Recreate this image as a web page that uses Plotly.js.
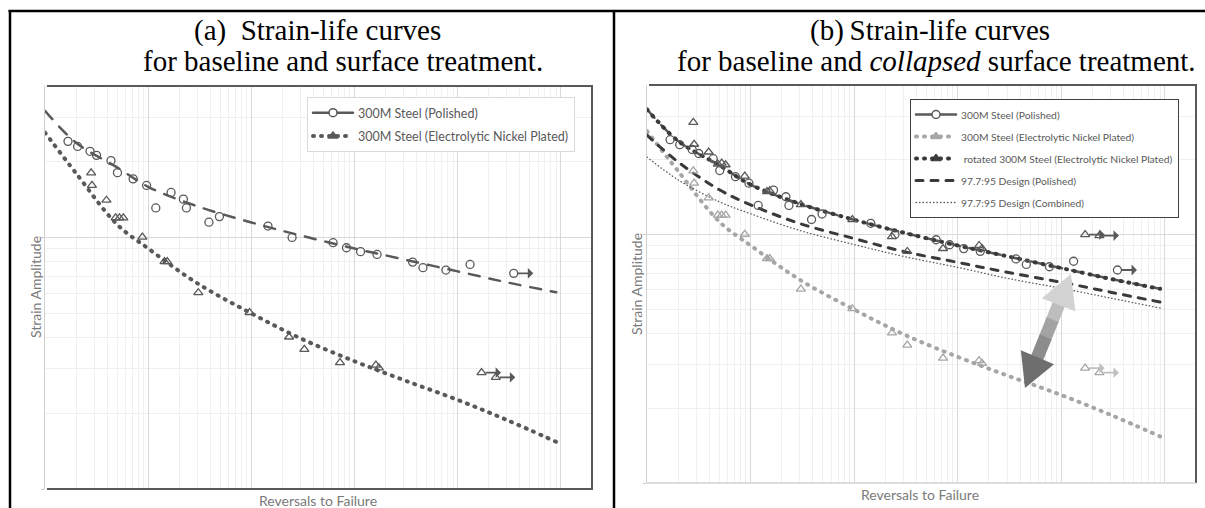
<!DOCTYPE html>
<html>
<head>
<meta charset="utf-8">
<script src="https://cdn.plot.ly/plotly-3.0.1.min.js"></script>
<style>
  html, body { margin: 0; padding: 0; background: #fff; }
  #chart { width: 1205px; height: 508px; }
  .js-line { stroke-linecap: round; }
</style>
</head>
<body>
<div id="chart"></div>
<script>
// ---------------- data ----------------
// 300M Steel (Polished) test points: reversals to failure / strain amplitude
const N_POL = [16.7, 20.7, 27.3, 31.6, 43.6, 50.4, 71.5, 96.5, 118.5, 166.7, 219.4, 234.6, 388, 490, 1448, 2480, 6190, 8350, 11430, 16520, 36560, 46000, 76870, 131600];
const E_POL = [0.0241, 0.0230, 0.0220, 0.0212, 0.0202, 0.0181, 0.0171, 0.0161, 0.0131, 0.0151, 0.0142, 0.0131, 0.0115, 0.0121, 0.0111, 0.0100, 0.00953, 0.00910, 0.00878, 0.00856, 0.00798, 0.00758, 0.00742, 0.00781];
const N_POL_RUNOUT = [348800];
const E_POL_RUNOUT = [0.00720];

// 300M Steel (Electrolytic Nickel Plated) test points
const N_NI = [28.0, 28.5, 39.4, 48.3, 52.6, 57.4, 87.9, 144, 153, 306, 961, 2320, 3260, 7220, 16100, 17200];
const E_NI = [0.01806, 0.01612, 0.01406, 0.01197, 0.01197, 0.01197, 0.01003, 0.00801, 0.00801, 0.00603, 0.00503, 0.00402, 0.00359, 0.00318, 0.00311, 0.00303];
const N_NI_RUNOUT = [170000, 233500];
const E_NI_RUNOUT = [0.00290, 0.00278];

// rotated nickel plated points (same lives, strain shifted)
const E_ROT = [0.0283, 0.0231, 0.0215, 0.0192, 0.0194, 0.0191, 0.0172, 0.0149, 0.0150, 0.0132, 0.0115, 0.00982, 0.00855, 0.00879, 0.00904, 0.00879];
const E_ROT_RUNOUT = [0.0100, 0.00991];

// fitted curves, read at these lives
const N_FIT = [10, 20, 50, 100, 300, 1000, 3000, 10000, 30000, 100000, 300000, 900000];
const E_FIT_POL = [0.0319, 0.0238, 0.0190, 0.0159, 0.0133, 0.01147, 0.01018, 0.00904, 0.00818, 0.00733, 0.00663, 0.00605];
const E_FIT_NI = [0.0261, 0.0180, 0.01126, 0.00904, 0.00657, 0.00499, 0.00397, 0.00322, 0.00271, 0.00226, 0.00188, 0.00154];
const E_FIT_ROT = [0.0319, 0.0238, 0.0190, 0.0159, 0.0133, 0.01147, 0.01018, 0.00904, 0.00818, 0.00733, 0.00663, 0.00605];
const E_DES_POL = [0.02512, 0.01959, 0.01514, 0.01318, 0.01107, 0.00964, 0.00855, 0.00773, 0.00705, 0.00643, 0.00586, 0.00535];
const E_DES_COMB = [0.02051, 0.01660, 0.01355, 0.01213, 0.01038, 0.00912, 0.00817, 0.00738, 0.00667, 0.00608, 0.00555, 0.00506];

const NAMES_A = ['300M Steel (Polished)', '300M Steel (Electrolytic Nickel Plated)'];
const NAMES_B = ['300M Steel (Polished)', '300M Steel (Electrolytic Nickel Plated)',
  '\u00a0rotated 300M Steel (Electrolytic Nickel Plated)', '97.7:95 Design (Polished)', '97.7:95 Design (Combined)'];
const TITLE_A = ['(a)\u00a0\u00a0Strain-life curves', 'for baseline and surface treatment.'];
const TITLE_B = ['(b)\u2009Strain-life curves', 'for baseline and <i>collapsed</i> surface treatment.'];
const X_TITLE = 'Reversals to Failure';
const Y_TITLE = 'Strain Amplitude';

// ---------------- styling ----------------
const W = 1205, H = 508;
const DARK = '#595959', LIGHT = '#a6a6a6', DDARK = '#3a3a3a';
const px = v => v / W;
const py = v => 1 - v / H;
const DOT = '1px,7px';

function xAxis(d0, d1, anchor) {
  return {
    type: 'log', domain: [px(d0), px(d1)], anchor: anchor,
    range: [1, Math.log10(2e6)], dtick: 1,
    showticklabels: false, ticks: '', zeroline: false, showline: false,
    showgrid: true, gridcolor: '#d9d9d9', gridwidth: 1,
    minor: { dtick: 'D1', showgrid: true, gridcolor: '#f0f0f0', gridwidth: 1, ticks: '' },
    fixedrange: true
  };
}
function yAxis(top, bottom, anchor) {
  return {
    type: 'log', domain: [py(bottom), py(top)], anchor: anchor,
    range: [-3, Math.log10(0.04)], dtick: 1,
    showticklabels: false, ticks: 'outside', ticklen: 3, tickcolor: '#c8c8c8',
    zeroline: false, showline: true, linecolor: '#d0d0d0', linewidth: 1.5,
    showgrid: true, gridcolor: '#d9d9d9', gridwidth: 1,
    minor: { dtick: 'D1', showgrid: true, gridcolor: '#f0f0f0', gridwidth: 1, ticks: '' },
    fixedrange: true
  };
}

function curve(x, y, xa, ya, color, width, dash) {
  return { x: x, y: y, xaxis: xa, yaxis: ya, mode: 'lines', showlegend: false, hoverinfo: 'skip',
    line: { color: color, width: width, dash: dash, shape: 'spline', smoothing: 1 } };
}
function pts(x, y, xa, ya, symbol, color) {
  return { x: x, y: y, xaxis: xa, yaxis: ya, mode: 'markers', showlegend: false, hoverinfo: 'skip',
    marker: { symbol: symbol, size: 8, color: color, line: { color: color, width: 1.3 } } };
}
function leg(name, legend, group, line, marker) {
  return { x: [null], y: [null], xaxis: legend === 'legend' ? 'x' : 'x2', yaxis: legend === 'legend' ? 'y' : 'y2',
    name: name, legend: legend, legendgroup: group, mode: marker ? 'lines+markers' : 'lines',
    line: line, marker: marker || {}, hoverinfo: 'skip' };
}

const traces = [
  // panel (a)
  curve(N_FIT, E_FIT_POL, 'x', 'y', DARK, 2.5, '11px,10px'),
  curve(N_FIT, E_FIT_NI, 'x', 'y', DARK, 4, DOT),
  pts(N_POL, E_POL, 'x', 'y', 'circle-open', DARK),
  pts(N_POL_RUNOUT, E_POL_RUNOUT, 'x', 'y', 'circle-open', DARK),
  pts(N_NI, E_NI, 'x', 'y', 'triangle-up-open', DARK),
  pts(N_NI_RUNOUT, E_NI_RUNOUT, 'x', 'y', 'triangle-up-open', DARK),
  leg(NAMES_A[0], 'legend', 'a1', { color: DARK, width: 2.5 }, { symbol: 'circle', size: 8, color: '#fff', line: { color: DARK, width: 1.5 } }),
  leg(NAMES_A[1], 'legend', 'a2', { color: DARK, width: 4, dash: DOT }, { symbol: 'triangle-up', size: 9, color: DARK, line: { color: DARK, width: 1 } }),

  // panel (b)
  curve(N_FIT, E_FIT_NI, 'x2', 'y2', LIGHT, 4, DOT),
  curve(N_FIT, E_DES_COMB, 'x2', 'y2', DARK, 1.3, '0.5px,3px'),
  curve(N_FIT, E_DES_POL, 'x2', 'y2', DDARK, 3, '7px,8px'),
  curve(N_FIT, E_FIT_POL, 'x2', 'y2', DARK, 2.5, '11px,10px'),
  curve(N_FIT, E_FIT_ROT, 'x2', 'y2', DDARK, 4, DOT),
  pts(N_NI, E_NI, 'x2', 'y2', 'triangle-up-open', LIGHT),
  pts(N_NI_RUNOUT, E_NI_RUNOUT, 'x2', 'y2', 'triangle-up-open', LIGHT),
  pts(N_POL, E_POL, 'x2', 'y2', 'circle-open', DARK),
  pts(N_POL_RUNOUT, E_POL_RUNOUT, 'x2', 'y2', 'circle-open', DARK),
  pts(N_NI, E_ROT, 'x2', 'y2', 'triangle-up-open', DARK),
  pts(N_NI_RUNOUT, E_ROT_RUNOUT, 'x2', 'y2', 'triangle-up-open', DARK),
  leg(NAMES_B[0], 'legend2', 'b1', { color: DARK, width: 2.5 }, { symbol: 'circle', size: 8, color: '#fff', line: { color: DARK, width: 1.5 } }),
  leg(NAMES_B[1], 'legend2', 'b2', { color: LIGHT, width: 4, dash: DOT }, { symbol: 'triangle-up', size: 9, color: LIGHT, line: { color: LIGHT, width: 1 } }),
  leg(NAMES_B[2], 'legend2', 'b3', { color: DDARK, width: 4, dash: DOT }, { symbol: 'triangle-up', size: 9, color: DDARK, line: { color: DDARK, width: 1 } }),
  leg(NAMES_B[3], 'legend2', 'b4', { color: DDARK, width: 3, dash: '7px,8px' }),
  leg(NAMES_B[4], 'legend2', 'b5', { color: DARK, width: 1.3, dash: '0.5px,3px' })
];

function runout(xv, yv, xa, ya, color) {
  return { x: Math.log10(xv), y: Math.log10(yv), xref: xa, yref: ya, ax: 21, ay: 0, axref: 'pixel', ayref: 'pixel',
    text: '', showarrow: true, arrowside: 'start', arrowhead: 2, arrowsize: 1, arrowwidth: 1.8,
    arrowcolor: color, standoff: 4 };
}
function txt(text, x, y, size, opts) {
  return Object.assign({ text: text, x: px(x), y: py(y), xref: 'paper', yref: 'paper', showarrow: false,
    xanchor: 'left', yanchor: 'middle', font: { family: 'Liberation Serif, Times New Roman, serif', size: size, color: '#000' } }, opts || {});
}
const sansTitle = { family: 'Lato, Open Sans, sans-serif', size: 14, color: '#7a7a7a' };

const annotations = [
  txt(TITLE_A[0], 192, 30, 29),
  txt(TITLE_A[1], 141, 61, 29),
  txt(TITLE_B[0], 808, 30, 29),
  txt(TITLE_B[1], 675, 61, 29),
  txt(X_TITLE, 318, 500, 14, { xanchor: 'center', font: sansTitle }),
  txt(X_TITLE, 920, 494, 14, { xanchor: 'center', font: sansTitle }),
  txt(Y_TITLE, 35, 287, 14, { xanchor: 'center', textangle: -90, font: sansTitle }),
  txt(Y_TITLE, 636, 284, 14, { xanchor: 'center', textangle: -90, font: sansTitle }),
  runout(N_POL_RUNOUT[0], E_POL_RUNOUT[0], 'x', 'y', DARK),
  runout(N_NI_RUNOUT[0], E_NI_RUNOUT[0], 'x', 'y', DARK),
  runout(N_NI_RUNOUT[1], E_NI_RUNOUT[1], 'x', 'y', DARK),
  runout(N_POL_RUNOUT[0], E_POL_RUNOUT[0], 'x2', 'y2', DARK),
  runout(N_NI_RUNOUT[0], E_NI_RUNOUT[0], 'x2', 'y2', '#bfbfbf'),
  runout(N_NI_RUNOUT[1], E_NI_RUNOUT[1], 'x2', 'y2', '#bfbfbf'),
  runout(N_NI_RUNOUT[0], E_ROT_RUNOUT[0], 'x2', 'y2', DARK),
  runout(N_NI_RUNOUT[1], E_ROT_RUNOUT[1], 'x2', 'y2', DARK)
];

function seg(x0, y0, x1, y1, color, width) {
  return { type: 'line', xref: 'paper', yref: 'paper', x0: px(x0), y0: py(y0), x1: px(x1), y1: py(y1),
    line: { color: color, width: width } };
}
function poly(points, fill) {
  const d = points.map((p, i) => (i ? 'L' : 'M') + px(p[0]) + ',' + py(p[1])).join(' ') + ' Z';
  return { type: 'path', xref: 'paper', yref: 'paper', path: d, fillcolor: fill, line: { width: 0 } };
}

// double-headed arrow geometry (pixels)
const T = [1071, 274], B = [1025, 388];
const len = Math.hypot(B[0] - T[0], B[1] - T[1]);
const u = [(B[0] - T[0]) / len, (B[1] - T[1]) / len], n = [u[1], -u[0]];
const P = (a, b) => [T[0] + u[0] * a + n[0] * b, T[1] + u[1] * a + n[1] * b];
const HL = 33, HW = 18, SW = 6.5;
const shaftBands = [[HL, 0.40 * len, '#bdbdbd'], [0.40 * len, 0.55 * len, '#a3a3a3'], [0.55 * len, len - HL, '#8c8c8c']];

const shapes = [
  // table borders
  seg(8.5, 11, 1205, 11, '#000', 2.5),
  seg(10, 10, 10, 508, '#000', 2.5),
  seg(614, 10, 614, 508, '#000', 2.5),
  // panel (a) frame
  seg(47, 86, 593, 86, DARK, 2),
  seg(592, 86, 592, 490, DARK, 2),
  seg(47, 489, 593, 489, DARK, 2),
  // panel (b) frame
  seg(649, 85, 1197, 85, DARK, 2),
  seg(1196, 85, 1196, 483, DARK, 2),
  seg(647, 483, 1196, 483, '#d0d0d0', 1.5),
  // big double arrow: light at the top, dark at the bottom
  poly([P(0, 0), P(HL, HW), P(HL + 0.5, -HW)], '#d2d2d2'),
  ...shaftBands.map(b => poly([P(b[0], SW), P(b[1] + 0.5, SW), P(b[1] + 0.5, -SW), P(b[0], -SW)], b[2])),
  poly([P(len, 0), P(len - HL, HW), P(len - HL - 0.5, -HW)], '#6e6e6e')
];

const legendFont = { family: 'Lato, Open Sans, sans-serif', size: 12.5, color: DARK };
const layout = {
  width: W, height: H,
  margin: { l: 0, r: 0, t: 0, b: 0 },
  paper_bgcolor: '#fff', plot_bgcolor: '#fff',
  xaxis: xAxis(45, 592, 'y'),
  yaxis: yAxis(86, 489, 'x'),
  xaxis2: xAxis(647, 1196, 'y2'),
  yaxis2: yAxis(85, 483, 'x2'),
  showlegend: true,
  legend: { x: px(307), y: py(97), xanchor: 'left', yanchor: 'top', bgcolor: '#fff',
    bordercolor: '#d9d9d9', borderwidth: 1, font: legendFont, tracegroupgap: 4, itemwidth: 40,
    itemclick: false, itemdoubleclick: false },
  legend2: { x: px(910), y: py(99), xanchor: 'left', yanchor: 'top', bgcolor: '#fff',
    bordercolor: '#404040', borderwidth: 1, font: Object.assign({}, legendFont, { size: 10.3 }), tracegroupgap: 3, itemwidth: 40,
    itemclick: false, itemdoubleclick: false },
  annotations: annotations,
  shapes: shapes,
  hovermode: false
};

Plotly.newPlot('chart', traces, layout, { staticPlot: true, displayModeBar: false });
</script>
</body>
</html>
